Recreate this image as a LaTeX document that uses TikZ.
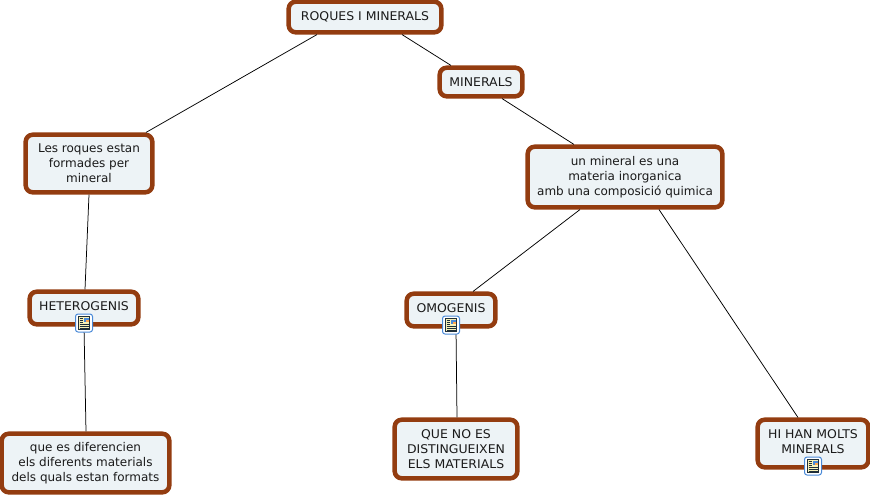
\documentclass[tikz,border=0pt]{standalone}
\usepackage{fontspec}
\setmainfont{DejaVu Sans}
\newfontfamily\capsfont[FakeStretch=1.04]{DejaVu Sans}
\definecolor{cbord}{HTML}{933C10}
\definecolor{cfill}{HTML}{EDF3F6}
\definecolor{ctext}{HTML}{1A1A1A}
\definecolor{iblue}{HTML}{4A8AD8}
\definecolor{iyell}{HTML}{F8F2B8}
\definecolor{idark}{HTML}{1F2F3A}
\tikzset{
  concept/.style={draw=cbord,fill=cfill,line width=4.5pt,rounded corners=7pt,inner sep=0pt,
    align=center,text=ctext,font=\fontsize{12pt}{15pt}\selectfont,anchor=center},
  link/.style={draw=black,line width=0.75pt},
  iconbox/.style={draw=iblue,fill=white,line width=1pt,rounded corners=2.5pt,minimum width=17pt,minimum height=18pt,inner sep=0pt,anchor=center},
}
\newcommand{\conc}[6]{% name x0 y0 x1 y1 text
  \node[concept,minimum width={#4-#2-3.4pt},minimum height={#5-#3-3.4pt}] (#1) at ({(#2+#4)/2},{(#3+#5)/2}) {#6};}
\newcommand{\docicon}[3]{%
  \node[iconbox] (#1) at (#2,#3) {};
  \fill[iyell,draw=idark,line width=0.7pt] ([xshift=-5.5pt,yshift=-6.5pt]#1.center) rectangle ([xshift=5.5pt,yshift=6.5pt]#1.center);
  \fill[iblue] ([xshift=-0.5pt,yshift=5.5pt]#1.center) rectangle ([xshift=4.5pt,yshift=1pt]#1.center);
  \fill[orange!70] ([xshift=1.5pt,yshift=3.5pt]#1.center) rectangle ([xshift=4.5pt,yshift=1pt]#1.center);
  \foreach \yy in {4.5,2.5,0.5}{\draw[idark,line width=0.6pt] ([xshift=-4.5pt,yshift=\yy pt]#1.center) -- ([xshift=-1.5pt,yshift=\yy pt]#1.center);}
  \foreach \yy in {-1.5,-3.5,-5.3}{\draw[idark,line width=0.6pt] ([xshift=-4.5pt,yshift=\yy pt]#1.center) -- ([xshift=4.5pt,yshift=\yy pt]#1.center);}
}
\begin{document}
\begin{tikzpicture}[x=1pt,y=-1pt]
\useasboundingbox (0,0) rectangle (870,496);
\conc{roq}{287}{0}{443}{34}{\capsfont ROQUES I MINERALS}
\conc{min}{438}{66}{524}{98}{\capsfont MINERALS}
\conc{les}{24}{133}{154}{194}{Les roques estan\\formades per\\mineral}
\conc{una}{526}{145}{724}{209}{un mineral es una\\materia inorganica\\amb una composició quimica}
\conc{het}{28}{290}{140}{326}{\capsfont HETEROGENIS\\[-11pt]}
\conc{omo}{405}{292}{497}{328}{\capsfont OMOGENIS\\[-11pt]}
\conc{que}{0}{432}{171}{494}{que es diferencien\\els diferents materials\\dels quals estan formats}
\conc{qno}{393}{418}{519}{480}{\capsfont QUE NO ES\\\capsfont DISTINGUEIXEN\\\capsfont ELS MATERIALS}
\conc{hih}{756}{418}{870}{469}{\capsfont HI HAN MOLTS\\\capsfont MINERALS\\[-11pt]}
\draw[link] ([xshift=-48pt]roq.south) -- ([xshift=57pt]les.north);
\draw[link] ([xshift=37pt]roq.south) -- ([xshift=-30pt]min.north);
\draw[link] ([xshift=21pt]min.south) -- ([xshift=-51pt]una.north);
\draw[link] ([xshift=-45pt]una.south) -- ([xshift=22pt]omo.north);
\draw[link] ([xshift=34pt]una.south) -- ([xshift=-15pt]hih.north);
\draw[link] (les.south) -- ([xshift=1pt]het.north);
\draw[link] (het.south) -- ([xshift=0.5pt]que.north);
\draw[link] ([xshift=5pt]omo.south) -- ([xshift=1pt]qno.north);
\docicon{ia}{84}{323}
\docicon{ib}{451}{325}
\docicon{ic}{813}{466}
\end{tikzpicture}
\end{document}
